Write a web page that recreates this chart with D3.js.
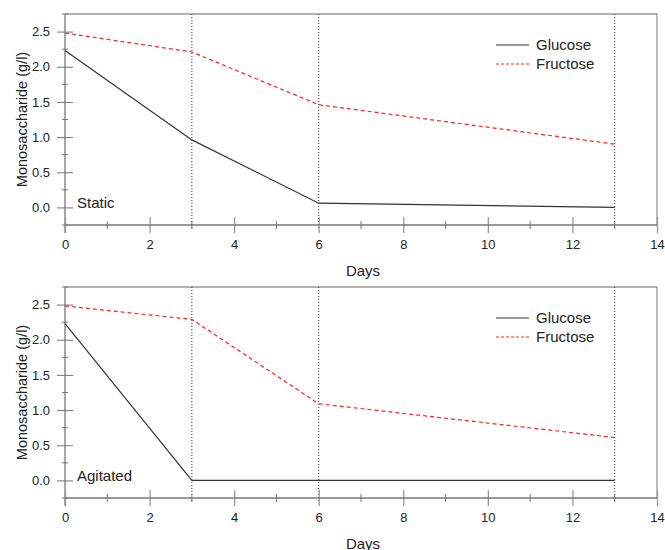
<!DOCTYPE html>
<html>
<head>
<meta charset="utf-8">
<script src="https://cdn.jsdelivr.net/npm/d3@7"></script>
<style>
body { margin: 0; background: #fff; }
text { font-family: "Liberation Sans", Arial, sans-serif; fill: #222; }
</style>
</head>
<body>
<div id="chart"></div>
<script>
// data
var days = [0, 3, 6, 13];
var glucoseStatic = [2.23, 0.96, 0.06, 0.0];
var fructoseStatic = [2.48, 2.21, 1.46, 0.90];
var glucoseAgitated = [2.23, 0.0, 0.0, 0.0];
var fructoseAgitated = [2.48, 2.29, 1.09, 0.61];
var sampleDays = [3, 6, 13];
var yTicks = [0, 0.5, 1.0, 1.5, 2.0, 2.5];
var xTicks = [0, 2, 4, 6, 8, 10, 12, 14];

var width = 665, height = 550;
var svg = d3.select("#chart").append("svg")
  .attr("width", width)
  .attr("height", height);

//=====================================================
function drawPanel(top, label, glucose, fructose) {
  var g = svg.append("g").attr("transform", "translate(0," + top + ")");

  var x = d3.scaleLinear().domain([0, 14]).range([65, 657]);
  var y = d3.scaleLinear().domain([-0.25, 2.75]).range([225, 14]);

  // frame top / right
  g.append("path")
    .attr("d", "M" + x(0) + "," + y(2.75) + "H" + x(14) + "V" + y(-0.25))
    .attr("fill", "none").attr("stroke", "#999").attr("stroke-width", 1.3);

  // dotted sampling lines
  g.selectAll(".vline").data(sampleDays).enter().append("line")
    .attr("x1", function(d) { return x(d); })
    .attr("x2", function(d) { return x(d); })
    .attr("y1", y(2.75)).attr("y2", y(-0.25) + 4)
    .attr("stroke", "#333").attr("stroke-width", 1)
    .attr("stroke-dasharray", "1,2");

  // y axis
  var yAxis = d3.axisLeft(y).tickValues(yTicks).tickFormat(d3.format(".1f"))
    .tickSize(8).tickPadding(7);
  var ya = g.append("g").attr("transform", "translate(" + x(0) + ",0)").call(yAxis);
  ya.select(".domain").remove();
  ya.selectAll(".tick line").attr("x2", 8).attr("x1", -8).attr("stroke", "#777");
  ya.selectAll(".tick text").attr("font-size", 13).attr("x", -15);
  var yMinor = d3.range(-0.25, 2.76, 0.5);
  g.selectAll(".ymin").data(yMinor).enter().append("line")
    .attr("x1", x(0) - 3).attr("x2", x(0) + 3)
    .attr("y1", function(d) { return y(d); })
    .attr("y2", function(d) { return y(d); })
    .attr("stroke", "#777");
  g.append("line").attr("x1", x(0)).attr("x2", x(0))
    .attr("y1", y(2.75)).attr("y2", y(-0.25) + 8)
    .attr("stroke", "#777").attr("stroke-width", 1.3);

  // x axis
  var xAxis = d3.axisBottom(x).tickValues(xTicks).tickSize(8).tickPadding(8);
  var xa = g.append("g").attr("transform", "translate(0," + y(-0.25) + ")").call(xAxis);
  xa.select(".domain").remove();
  xa.selectAll(".tick line").attr("y1", -8).attr("y2", 8).attr("stroke", "#999").attr("stroke-width", 1.3);
  xa.selectAll(".tick text").attr("font-size", 13).attr("y", 15);
  g.selectAll(".xmin").data(d3.range(1, 14, 2)).enter().append("line")
    .attr("x1", function(d) { return x(d); })
    .attr("x2", function(d) { return x(d); })
    .attr("y1", y(-0.25) - 4).attr("y2", y(-0.25) + 4)
    .attr("stroke", "#777");
  g.append("line").attr("x1", x(0)).attr("x2", x(14))
    .attr("y1", y(-0.25)).attr("y2", y(-0.25))
    .attr("stroke", "#777").attr("stroke-width", 1.3);

  // series
  var line = d3.line()
    .x(function(d, i) { return x(days[i]); })
    .y(function(d) { return y(d); });
  g.append("path").datum(fructose).attr("d", line)
    .attr("fill", "none").attr("stroke", "#f22").attr("stroke-width", 1.2)
    .attr("stroke-dasharray", "4,3");
  g.append("path").datum(glucose).attr("d", line)
    .attr("fill", "none").attr("stroke", "#333").attr("stroke-width", 1.2);

  // labels
  g.append("text").attr("x", 77).attr("y", 208).attr("font-size", 15).text(label);
  g.append("text").attr("transform", "translate(27," + y(1.25) + ") rotate(-90)")
    .attr("text-anchor", "middle").attr("font-size", 14.5).text("Monosaccharide (g/l)");
  g.append("text").attr("x", 363).attr("y", 276).attr("text-anchor", "middle")
    .attr("font-size", 15).text("Days");

  // legend
  var leg = [["Glucose", "#333", null], ["Fructose", "#f22", "3,2"]];
  leg.forEach(function(l, i) {
    var ly = 45 + i * 19;
    g.append("line").attr("x1", 496).attr("x2", 529).attr("y1", ly).attr("y2", ly)
      .attr("stroke", l[1]).attr("stroke-width", 1.1)
      .attr("stroke-dasharray", l[2]);
    g.append("text").attr("x", 536).attr("y", ly + 5).attr("font-size", 15).text(l[0]);
  });
}

drawPanel(0, "Static", glucoseStatic, fructoseStatic);
drawPanel(273, "Agitated", glucoseAgitated, fructoseAgitated);
</script>
</body>
</html>
